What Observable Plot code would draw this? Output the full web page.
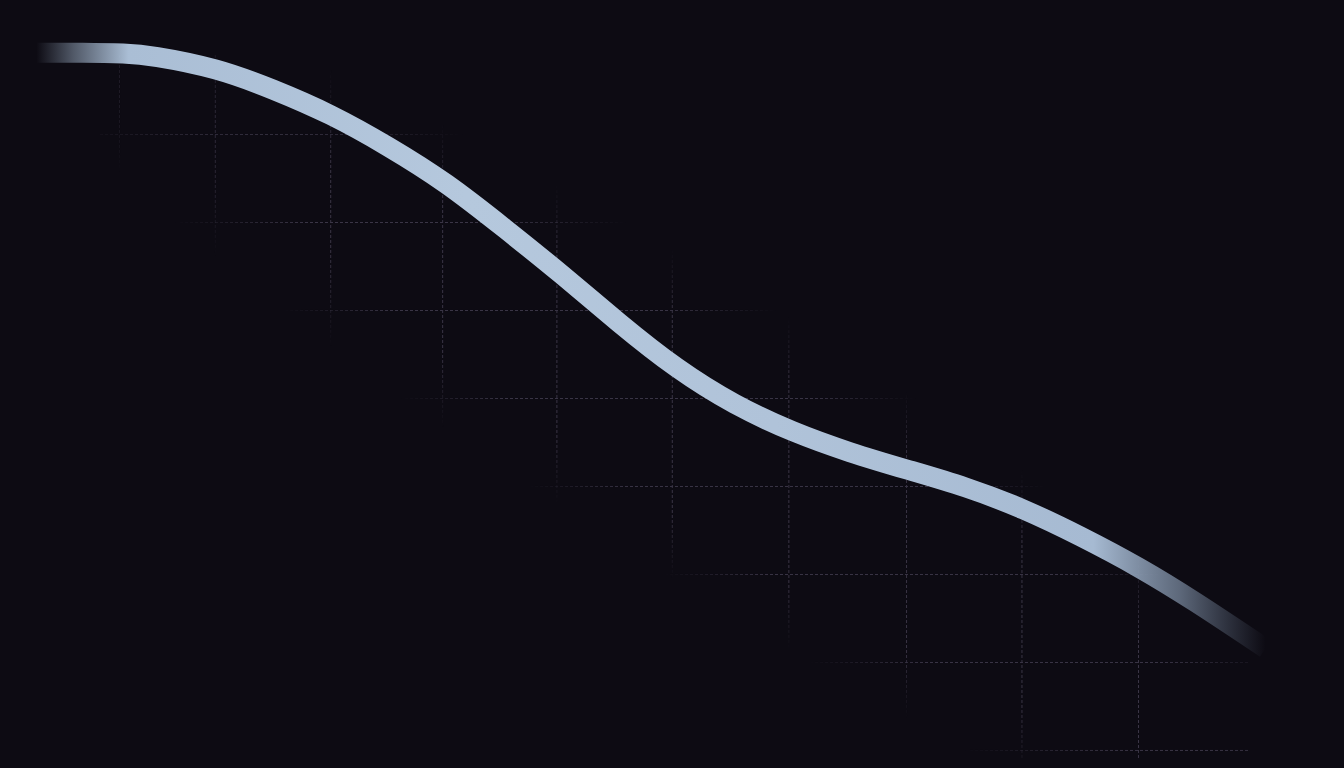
<!DOCTYPE html>
<html>
<head>
<meta charset="utf-8">
<script src="https://cdn.jsdelivr.net/npm/d3@7"></script>
<script src="https://cdn.jsdelivr.net/npm/@observablehq/plot@0.6"></script>
<style>
  html, body { margin: 0; padding: 0; background: #0d0b13; overflow: hidden; }
  #chart svg { display: block; }
</style>
</head>
<body>
<div id="chart"></div>
<script>
// Vertical grid positions (x units) and horizontal grid positions (y units)
const gridX = [1.17, 2, 3, 3.97, 4.96, 5.96, 6.97, 7.99, 8.99, 10];
const gridY = [1, 2, 3, 4, 5, 6, 7, 8];

// Curve samples
const curveX = [0.45, 0.85, 1.2, 1.5, 2, 2.5, 3, 3.5, 4, 4.5, 5, 5.5, 6, 6.5, 7, 7.5, 8, 8.5, 9, 9.5, 10, 10.5, 11.1];
const curveY = [8.93, 8.93, 8.92, 8.88, 8.74, 8.51, 8.22, 7.86, 7.44, 6.94, 6.41, 5.86, 5.35, 4.94, 4.63, 4.39, 4.19, 3.99, 3.74, 3.43, 3.08, 2.68, 2.16];

const curve = curveX.map((x, i) => ({x, y: curveY[i]}));

const W = 1344, H = 768;

const plot = Plot.plot({
  width: W,
  height: H,
  margin: 0,
  style: {background: "#0d0b13"},
  x: {domain: [0.1386, 11.785], axis: null},
  y: {domain: [0.795, 9.523], axis: null},
  marks: [
    Plot.ruleX(gridX, {stroke: "#3a3546", strokeWidth: 1, strokeDasharray: "3,2"}),
    Plot.ruleY(gridY, {stroke: "#3a3546", strokeWidth: 1, strokeDasharray: "3,2"}),
    Plot.line(curve, {x: "x", y: "y", curve: "natural", stroke: "url(#curveGrad)", strokeWidth: 20, strokeLinecap: "butt"})
  ]
});

document.getElementById("chart").appendChild(plot);

const sx = plot.scale("x");
const svg = d3.select(plot);
const defs = svg.insert("defs", ":first-child");

// Curve gradient with faded ends
const gx1 = sx.apply(curveX[0]), gx2 = sx.apply(curveX[curveX.length - 1]);
const cg = defs.append("linearGradient")
  .attr("id", "curveGrad")
  .attr("gradientUnits", "userSpaceOnUse")
  .attr("x1", gx1).attr("y1", 0).attr("x2", gx2).attr("y2", 0);
[
  [0, "#9fb2c9", 0],
  [0.03, "#a4b8cf", 0.45],
  [0.075, "#aabed5", 1],
  [0.35, "#b5c8dd", 1],
  [0.6, "#b0c3d9", 1],
  [0.86, "#a6bad2", 1],
  [0.93, "#93a7c0", 0.6],
  [1, "#7f93ad", 0]
].forEach(([o, c, a]) => cg.append("stop").attr("offset", o).attr("stop-color", c).attr("stop-opacity", a));

// Elliptical, diagonal soft mask for the grid
const mg = defs.append("radialGradient")
  .attr("id", "bandGrad")
  .attr("gradientUnits", "userSpaceOnUse")
  .attr("cx", 0).attr("cy", 0).attr("r", 1)
  .attr("gradientTransform", "translate(752,462) rotate(32) scale(890,142)");
[
  [0, "#fff"], [0.6, "#fff"], [0.85, "#5a5a5a"], [1, "#000"]
].forEach(([o, c]) => mg.append("stop").attr("offset", o).attr("stop-color", c));

const mask = defs.append("mask")
  .attr("id", "gridMask")
  .attr("maskUnits", "userSpaceOnUse")
  .attr("x", 0).attr("y", 0).attr("width", W).attr("height", H);
mask.append("rect")
  .attr("x", 100).attr("y", 55).attr("width", 1150).attr("height", 705)
  .attr("fill", "url(#bandGrad)");

svg.selectAll("g[aria-label='rule']").attr("mask", "url(#gridMask)");
</script>
</body>
</html>
